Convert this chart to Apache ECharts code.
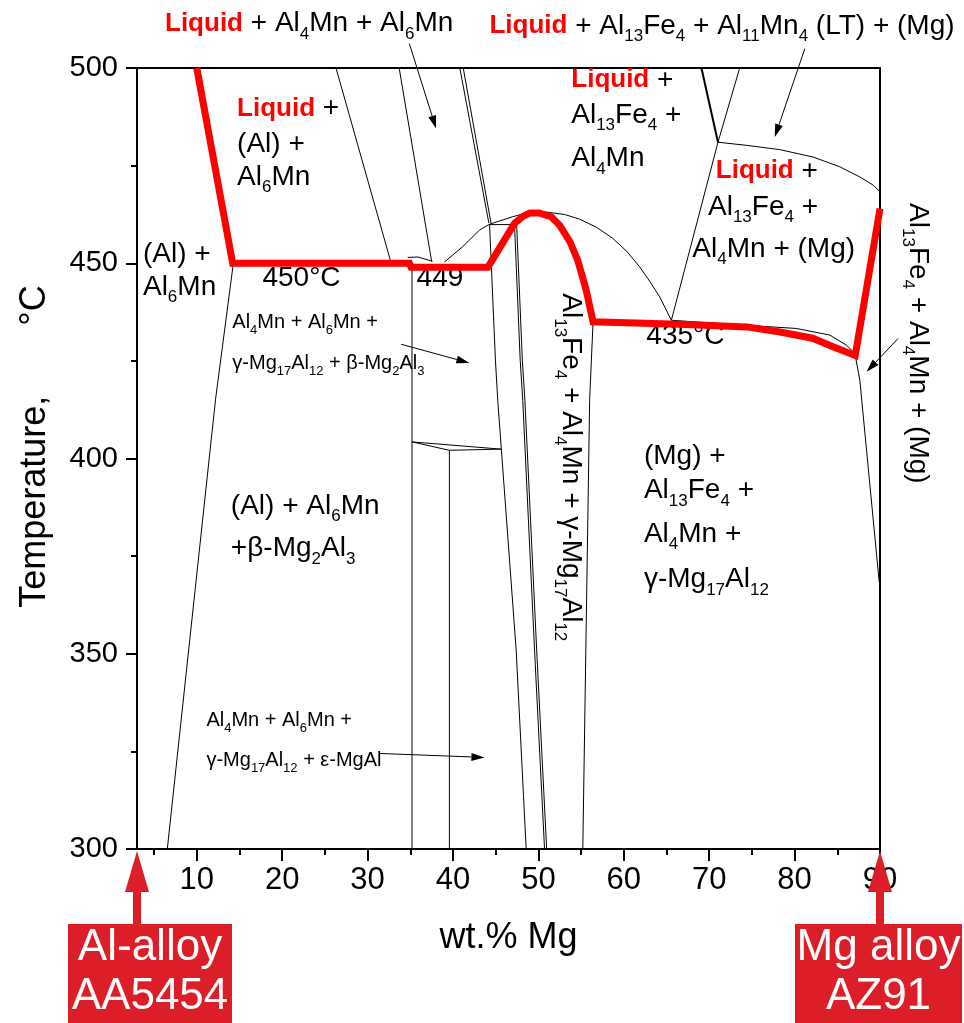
<!DOCTYPE html>
<html>
<head>
<meta charset="utf-8">
<script src="https://cdn.jsdelivr.net/npm/echarts@6/dist/echarts.min.js"></script>
<style>
  html, body { margin: 0; padding: 0; background: #fff; }
  #chart { width: 964px; height: 1023px; }
</style>
</head>
<body>
<div id="chart"></div>
<script>
const FONT = '"Liberation Sans", Arial, Helvetica, sans-serif';

// ---- axis ticks ----
const xMajorTicks = [10, 20, 30, 40, 50, 60, 70, 80, 90];
const xMinorTicks = [5, 15, 25, 35, 45, 55, 65, 75, 85];

// ---- liquidus path of the AA5454 / AZ91 mix (wt.% Mg, °C) ----
const liquidusMg = [10, 14.2, 34.9, 35.1, 44.1, 47.2, 48.2, 49.0, 50.1, 51.5, 52.5, 53.7, 54.6, 55.6, 56.4, 66.5, 74.4, 78.3, 82.1, 84.5, 87.1, 90];
const liquidusT  = [500, 450, 450, 449, 449, 460.2, 462.0, 462.9, 462.9, 461.9, 459.7, 455.5, 450.8, 443.1, 435, 434.4, 433.7, 432.4, 430.8, 428.6, 426.4, 464.0];

// ---- phase boundaries, [wt.% Mg, °C] ----
const alSolvus    = [[14.3, 450.3], [12.2, 415.2], [6.55, 300]];
const al6MnLeft   = [[26.3, 500], [32.7, 450.5]];
const al6MnRight  = [[33.7, 500], [37.5, 450.5]];
const al4MnA      = [[40.8, 500], [44.2, 460.3]];
const al4MnB      = [[41.2, 500], [44.45, 460.3]];
const tie460      = [[44.3, 459.9], [47.3, 459.9]];
const betaRight   = [[44.28, 460], [44.97, 425.2], [45.24, 414.9], [47.4, 350.9], [48.57, 300]];
const gammaLeftA  = [[47.2, 460], [47.87, 425.2], [48.17, 414.9], [49.55, 350.9], [50.72, 300]];
const gammaLeftB  = [[47.45, 460], [48.12, 425.2], [48.42, 414.9], [49.8, 350.9], [50.97, 300]];
const gammaRight  = [[56.4, 435], [56.0, 414.9], [55.2, 300]];
const gammaDome   = [[38.99, 450.3], [41.11, 454.2], [43.11, 458.5], [44.28, 460.0], [46.98, 461.9], [48.6, 462.9], [50.95, 463.1], [53.06, 462.5], [54.82, 461.3], [56.81, 459.2], [58.69, 456.4], [60.33, 453.1], [61.85, 449.1], [63.03, 445.4], [64.2, 441.4], [65.57, 435.4]];
const cap449      = [[34.7, 451.5], [35.9, 451.6], [37.6, 450.5]];
const beta449     = [[35.2, 449], [35.2, 300]];
const beta402     = [[39.58, 402.1], [39.58, 300]];
const tie404A     = [[35.2, 404.25], [39.58, 402.1], [45.64, 402.4]];
const tie404B     = [[35.2, 404.25], [45.64, 402.4]];
const eutRise     = [[65.57, 435.4], [71.03, 481.0], [73.57, 500]];
const al13Fe4Top  = [[69.09, 500], [71.03, 481.0]];
const mgLiquidus  = [[71.03, 481.0], [74.36, 480.2], [78.26, 479.1], [82.17, 477.2], [85.3, 474.7], [87.64, 472.1], [89.2, 470.0], [90, 468.3]];
const mgSolidus   = [[65.57, 435.4], [74.36, 434.1], [80.22, 433.3], [84.13, 431.6], [86.08, 429.0], [87.06, 426.9]];
const mgSolvus    = [[87.06, 426.9], [87.64, 420.0], [89.91, 368.3]];

const thinLines = [alSolvus, al6MnLeft, al6MnRight, al4MnA, al4MnB, tie460, betaRight, gammaLeftA, gammaLeftB,
  gammaRight, gammaDome, cap449, beta449, beta402, tie404A, tie404B, eutRise, mgLiquidus, mgSolidus, mgSolvus];

// ---- pointer arrows (tail -> head), [wt.% Mg, °C] ----
const arrowTails = [[34.89, 506.25], [81.2, 504.97], [33.92, 429.26], [31.37, 324.47], [92.1, 430.7]];
const arrowHeads = [[38.02, 484.49], [77.68, 482.33], [41.92, 424.47], [43.68, 323.45], [88.43, 422.2]];

// ---- alloy markers on the composition axis ----
const alloyMg     = [3, 90];
const alloyLines1 = ['Al-alloy', 'Mg alloy'];
const alloyLines2 = ['AA5454', 'AZ91'];

// ---- region labels: *bold red*, _{subscript} ----
const noteTexts = [
  '*Liquid* + Al_{4}Mn + Al_{6}Mn',
  '*Liquid* + Al_{13}Fe_{4} + Al_{11}Mn_{4} (LT) + (Mg)',
  '*Liquid* +', '(Al) +', 'Al_{6}Mn',
  '*Liquid* +', 'Al_{13}Fe_{4} +', 'Al_{4}Mn',
  '*Liquid* +', 'Al_{13}Fe_{4} +', 'Al_{4}Mn + (Mg)',
  '(Al) +', 'Al_{6}Mn',
  '450°C', '449', '435°C',
  'Al_{4}Mn + Al_{6}Mn +', 'γ-Mg_{17}Al_{12} + β-Mg_{2}Al_{3}',
  '(Al) + Al_{6}Mn', '+β-Mg_{2}Al_{3}',
  'Al_{4}Mn + Al_{6}Mn +', 'γ-Mg_{17}Al_{12} + ε-MgAl',
  '(Mg) +', 'Al_{13}Fe_{4} +', 'Al_{4}Mn +', 'γ-Mg_{17}Al_{12}',
  'Al_{13}Fe_{4} + Al_{4}Mn + γ-Mg_{17}Al_{12}',
  'Al_{13}Fe_{4} + Al_{4}Mn + (Mg)'
];
// placement of each label: anchor (left end, text middle) in axis units, size class, rotation
const noteLayout = [
  [6.28, 511.4, 'L', 0], [44.27, 510.7, 'L', 0],
  [14.72, 489.6, 'L', 0], [14.72, 480.4, 'L', 0], [14.72, 472.1, 'L', 0],
  [53.85, 496.85, 'L', 0], [53.85, 487.9, 'L', 0], [53.85, 476.8, 'L', 0],
  [70.77, 473.6, 'L', 0], [69.86, 464.4, 'L', 0], [68.03, 453.6, 'L', 0],
  [3.70, 452.25, 'L', 0], [3.70, 443.9, 'L', 0],
  [17.69, 446.2, 'L', 0], [35.74, 446.1, 'L', 0], [62.64, 431.4, 'L', 0],
  [14.16, 434.77, 'S', 0], [14.16, 424.3, 'S', 0],
  [13.99, 387.8, 'L', 0], [13.99, 376.96, 'L', 0],
  [11.13, 332.8, 'S', 0], [11.13, 322.56, 'S', 0],
  [62.36, 400.6, 'L', 0], [62.36, 391.76, 'L', 0], [62.36, 380.6, 'L', 0], [62.36, 369.05, 'L', 0],
  [53.76, 442.3, 'L', -90], [94.44, 465.4, 'L', -90]
];

const richStyles = {
  Ln: { fontSize: 28, lineHeight: 38, fontFamily: FONT, fill: '#000' },
  Ls: { fontSize: 17, lineHeight: 8, verticalAlign: 'bottom', fontFamily: FONT, fill: '#000' },
  Lr: { fontSize: 26, lineHeight: 38, fontWeight: 'bold', fontFamily: FONT, fill: '#ff0000' },
  Sn: { fontSize: 20, lineHeight: 28, fontFamily: FONT, fill: '#000' },
  Ss: { fontSize: 13, lineHeight: 6, verticalAlign: 'bottom', fontFamily: FONT, fill: '#000' },
  Sr: { fontSize: 20, lineHeight: 28, fontWeight: 'bold', fontFamily: FONT, fill: '#ff0000' }
};

function toRich(str, kind) {
  return str.split(/(\*[^*]+\*|_\{[^}]+\})/).filter(p => p.length).map(p => {
    if (p[0] === '*') return '{' + kind + 'r|' + p.slice(1, -1) + '}';
    if (p.startsWith('_{')) return '{' + kind + 's|' + p.slice(2, -1) + '}';
    return '{' + kind + 'n|' + p + '}';
  }).join('');
}

const chart = echarts.init(document.getElementById('chart'), null, { renderer: 'canvas' });

const series = thinLines.map(pts => ({
  type: 'line', data: pts, xAxisIndex: 0, yAxisIndex: 0,
  symbol: 'none', showSymbol: false, silent: true, clip: false,
  lineStyle: { color: '#000', width: 1 }, z: 3
}));
series.push({
  type: 'line', data: al13Fe4Top, symbol: 'none', showSymbol: false, silent: true, clip: false,
  lineStyle: { color: '#000', width: 2 }, z: 3
});
series.push({
  type: 'line', data: liquidusMg.map((m, i) => [m, liquidusT[i]]),
  symbol: 'none', showSymbol: false, silent: true, clip: false,
  lineStyle: { color: '#ff0000', width: 7, join: 'miter', cap: 'butt' }, z: 5
});

chart.setOption({
  animation: false,
  backgroundColor: '#fff',
  grid: { left: 137, right: 84, top: 68, bottom: 174, show: true, borderColor: '#000', borderWidth: 2, backgroundColor: 'transparent' },
  xAxis: [
    {
      type: 'value', min: 3, max: 90, position: 'bottom',
      name: 'wt.% Mg', nameLocation: 'middle', nameGap: 71,
      nameTextStyle: { fontSize: 36, fontFamily: FONT, color: '#000' },
      axisLine: { show: true, onZero: false, lineStyle: { color: '#000', width: 2 } },
      axisTick: { show: true, length: 12, customValues: xMajorTicks, lineStyle: { color: '#000', width: 2 } },
      axisLabel: { customValues: xMajorTicks, fontSize: 31, margin: 16, color: '#000', fontFamily: FONT },
      splitLine: { show: false }
    },
    {
      type: 'value', min: 3, max: 90, position: 'bottom',
      axisLine: { show: false },
      axisTick: { show: true, length: 6, customValues: xMinorTicks, lineStyle: { color: '#000', width: 2 } },
      axisLabel: { show: false },
      splitLine: { show: false }
    }
  ],
  yAxis: {
    type: 'value', min: 300, max: 500, interval: 50,
    name: 'Temperature,       °C', nameLocation: 'middle', nameGap: 84,
    nameTextStyle: { fontSize: 36, fontFamily: FONT, color: '#000', padding: [0, 0, 0, 24] },
    axisLine: { show: true, onZero: false, lineStyle: { color: '#000', width: 2 } },
    axisTick: { show: true, length: 11, lineStyle: { color: '#000', width: 2 } },
    minorTick: { show: true, splitNumber: 2, length: 6, lineStyle: { color: '#000', width: 2 } },
    axisLabel: { fontSize: 29, margin: 19, color: '#000', fontFamily: FONT },
    splitLine: { show: false }
  },
  series: series
});

// ---- overlay: labels, pointer arrows and alloy markers ----
const toPx = p => chart.convertToPixel({ xAxisIndex: 0, yAxisIndex: 0 }, p);
const graphics = [];

noteTexts.forEach((txt, i) => {
  const [m, t, kind, rot] = noteLayout[i];
  const p = toPx([m, t]);
  graphics.push({
    type: 'text', x: p[0], y: p[1], rotation: rot * Math.PI / 180, z: 1, silent: true,
    style: { text: toRich(txt, kind), rich: richStyles, align: 'left', verticalAlign: 'middle', fill: '#000', fontFamily: FONT, fontSize: 28 }
  });
});

arrowTails.forEach((tail, i) => {
  const a = toPx(tail), b = toPx(arrowHeads[i]);
  const dx = b[0] - a[0], dy = b[1] - a[1];
  const len = Math.hypot(dx, dy), ux = dx / len, uy = dy / len;
  const bx = b[0] - ux * 13, by = b[1] - uy * 13;
  graphics.push({ type: 'line', z: 6, silent: true, shape: { x1: a[0], y1: a[1], x2: bx, y2: by }, style: { stroke: '#000', lineWidth: 1 } });
  graphics.push({ type: 'polygon', z: 6, silent: true, shape: { points: [[b[0], b[1]], [bx - uy * 4, by + ux * 4], [bx + uy * 4, by - ux * 4]] }, style: { fill: '#000' } });
});

const MARK = '#dc1e28';
const boxSpan = [[-69, 95], [-85, 82]];
alloyMg.forEach((m, i) => {
  const p = toPx([m, 300]);
  const ax = p[0], ay = p[1];
  const boxTop = ay + 75;
  graphics.push({ type: 'polygon', z: 20, silent: true, shape: { points: [[ax, ay + 2], [ax + 12, ay + 43], [ax - 12, ay + 43]] }, style: { fill: MARK } });
  graphics.push({ type: 'rect', z: 20, silent: true, shape: { x: ax - 4, y: ay + 42, width: 8, height: boxTop - ay - 41 }, style: { fill: MARK } });
  const l = ax + boxSpan[i][0], r = ax + boxSpan[i][1];
  graphics.push({ type: 'rect', z: 20, silent: true, shape: { x: l, y: boxTop, width: r - l, height: 100 }, style: { fill: MARK } });
  const cx = (l + r) / 2;
  graphics.push({ type: 'text', z: 21, silent: true, x: cx, y: boxTop + 24, style: { text: alloyLines1[i], fill: '#fff', fontSize: 44, fontFamily: FONT, align: 'center', verticalAlign: 'middle' } });
  graphics.push({ type: 'text', z: 21, silent: true, x: cx, y: boxTop + 73, style: { text: alloyLines2[i], fill: '#fff', fontSize: 44, fontFamily: FONT, align: 'center', verticalAlign: 'middle' } });
});

chart.setOption({ graphic: graphics });
</script>
</body>
</html>
